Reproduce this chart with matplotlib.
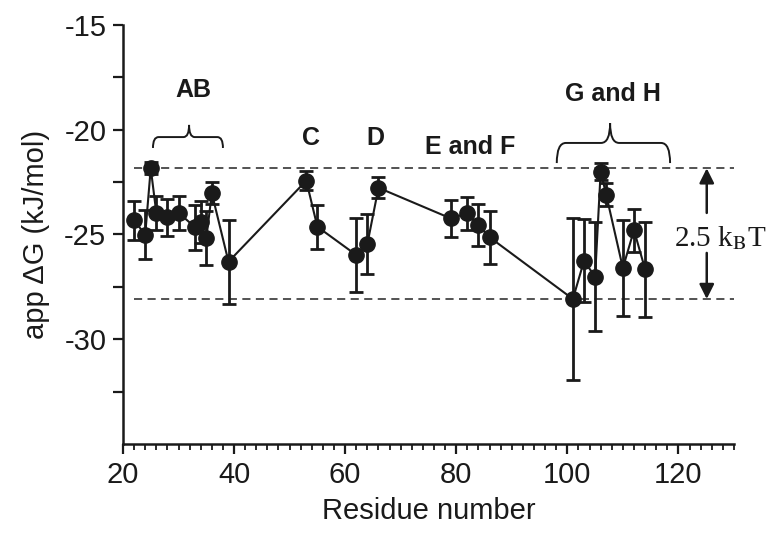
import matplotlib
matplotlib.use('Agg')
import matplotlib.pyplot as plt
from matplotlib.path import Path
from matplotlib.patches import PathPatch
from matplotlib.ticker import MultipleLocator, FixedLocator

plt.rcParams['font.family'] = ['Liberation Sans', 'DejaVu Sans']
plt.rcParams['mathtext.fontset'] = 'stix'
plt.rcParams['axes.unicode_minus'] = False

# Residue numbers, apparent dG (kJ/mol) and error bars.
residue = [22, 24, 25, 26, 28, 30, 33, 34, 35, 36, 39,
           53, 55, 62, 64, 66,
           79, 82, 84, 86,
           101, 103, 105, 106, 107, 110, 112, 114]
dg = [-24.31, -25.02, -21.84, -23.96, -24.18, -23.96, -24.66, -24.39, -25.18, -23.03, -26.30,
      -22.43, -24.63, -25.98, -25.45, -22.77,
      -24.23, -23.99, -24.55, -25.13,
      -28.08, -26.26, -27.01, -22.00, -23.10, -26.60, -24.79, -26.66]
err = [0.93, 1.17, 0.28, 0.82, 0.87, 0.82, 1.07, 1.00, 1.28, 0.53, 2.00,
       0.44, 1.05, 1.75, 1.45, 0.50,
       0.89, 0.80, 1.00, 1.27,
       3.88, 1.98, 2.62, 0.40, 0.56, 2.27, 1.03, 2.27]

# Upper and lower reference levels (max and min of dg).
level_hi = -21.84
level_lo = -28.08

# Region labels: text, x, y
regions = [('AB', 32.6, -18.1), ('C', 53.8, -20.4), ('D', 65.5, -20.4),
           ('E and F', 82.5, -20.8), ('G and H', 108.2, -18.3)]

yticks = [-30, -25, -20, -15]

col = '#1a1a1a'

fig = plt.figure(figsize=(7.7, 5.41), dpi=100)
ax = fig.add_axes([0.1597, 0.1793, 0.7935, 0.7745])

ax.errorbar(residue, dg, yerr=err, fmt='-o', color=col, ecolor=col,
            markersize=11, linewidth=1.5, elinewidth=2.0, capsize=5, capthick=2.0,
            zorder=3)

for lev in (level_hi, level_lo):
    ax.plot([22, 130], [lev, lev], linestyle=(0, (4.5, 3)), color='#444444', linewidth=1.3)

for txt, x, y in regions:
    ax.text(x, y, txt, ha='center', va='center', fontsize=18, fontweight='bold', color=col)


def brace(ax, x0, x1, xt, ybot, ymid, ytop):
    r = (x1 - x0) * 0.08
    verts = [(x0, ybot), (x0, ymid), (x0 + r, ymid),
             (xt - r, ymid), (xt, ymid), (xt, ytop),
             (xt, ymid), (xt + r, ymid),
             (x1 - r, ymid), (x1, ymid), (x1, ybot)]
    codes = [Path.MOVETO, Path.CURVE3, Path.CURVE3,
             Path.LINETO, Path.CURVE3, Path.CURVE3,
             Path.CURVE3, Path.CURVE3,
             Path.LINETO, Path.CURVE3, Path.CURVE3]
    ax.add_patch(PathPatch(Path(verts, codes), fill=False, edgecolor=col, linewidth=1.4,
                           clip_on=False))


brace(ax, 25.4, 38.0, 31.9, -20.87, -20.35, -19.77)
brace(ax, 98.1, 118.5, 107.7, -21.59, -20.63, -19.68)

# 2.5 kBT arrows
for tail, head in ((-23.97, level_hi), (-25.88, level_lo)):
    ax.annotate('', xy=(125.1, head), xytext=(125.1, tail),
                arrowprops=dict(arrowstyle='-|>', color=col, lw=1.8, mutation_scale=22,
                                shrinkA=0, shrinkB=0))
ax.text(127.5, -25.17, r'2.5 k$_{\mathrm{B}}$T', ha='center', va='center', fontsize=21,
        family='Liberation Serif', color=col, clip_on=False)

ax.set_xlim(20, 130)
ax.set_ylim(-35, -15)
ax.xaxis.set_major_locator(MultipleLocator(20))
ax.xaxis.set_minor_locator(MultipleLocator(2))
ax.yaxis.set_major_locator(FixedLocator(yticks))
ax.yaxis.set_minor_locator(FixedLocator([-32.5, -27.5, -22.5, -17.5]))
ax.tick_params(which='major', direction='out', length=7, width=1.6, labelsize=21, colors=col, pad=5)
ax.tick_params(which='minor', direction='out', length=4, width=1.3, colors=col)
ax.tick_params(axis='y', which='minor', length=7, width=1.6)
for s in ['top', 'right']:
    ax.spines[s].set_visible(False)
for s in ['left', 'bottom']:
    ax.spines[s].set_linewidth(1.8)
    ax.spines[s].set_color(col)

ax.set_xlabel('Residue number', fontsize=21, color=col, labelpad=6)
ax.set_ylabel('app \u0394G (kJ/mol)', fontsize=21, color=col, labelpad=10)

fig.savefig('out.png', dpi=100)
